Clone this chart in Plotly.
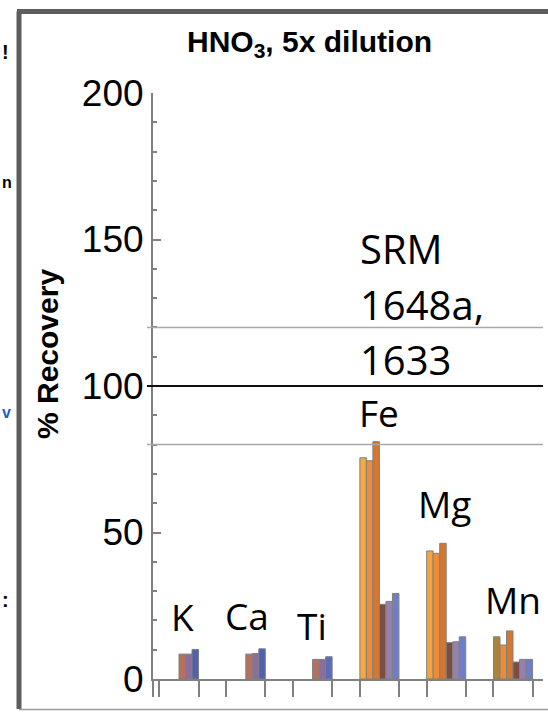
import plotly.graph_objects as go

# Element groups and % recovery for the six sample series
elements = ["K", "Ca", "Ti", "Fe", "Mg", "Mn"]
srm1648a_run1 = [None, None, None, 75.5, 43.7, 14.4]
srm1648a_run2 = [None, None, None, 74.5, 42.9, 11.6]
srm1648a_run3 = [None, None, None, 81.0, 46.3, 16.4]
srm1633_run1 = [8.5, 8.5, 6.7, 25.5, 12.4, 5.8]
srm1633_run2 = [8.5, 8.7, 6.7, 26.5, 12.7, 6.7]
srm1633_run3 = [10.1, 10.3, 7.6, 29.2, 14.4, 6.7]

series = [srm1648a_run1, srm1648a_run2, srm1648a_run3,
          srm1633_run1, srm1633_run2, srm1633_run3]

colors = [
    ["#F4AA3E", "#F4AA3E", "#F4AA3E", "#F4AA3E", "#F2A53C", "#A8843E"],
    ["#EC8C3A", "#EC8C3A", "#EC8C3A", "#EC8C3A", "#EC8C3A", "#EC8C3A"],
    ["#D6772E", "#D6772E", "#D6772E", "#D6772E", "#D6772E", "#D6772E"],
    ["#B5715C", "#B5715C", "#B5715C", "#7C4E42", "#7C4E42", "#7C4E42"],
    ["#8C6E9C", "#8C6E9C", "#8C6E9C", "#9580AE", "#9580AE", "#9580AE"],
    ["#5061B0", "#5061B0", "#5A6CBA", "#6E7EC8", "#6E7EC8", "#6E7EC8"],
]

# label positions (value units) for the element names
label_y = [21.2, 21.8, 18.4, 90.8, 60.0, 27.0]
label_dx = [0.06, 0.02, -0.01, -0.01, -0.03, 0.0]

y_ticks = [0, 50, 100, 150, 200]
x_pos = list(range(len(elements)))

W, H = 548, 713
L, R, T, B = 153, 5, 93, 34
PW, PH = W - L - R, H - T - B

GROUP = 0.585
BW = GROUP / 6
X0, X1 = -0.389, 5.449


def px(x):
    return (x - L) / PW


def py(y):
    return (H - B - y) / PH


fig = go.Figure()
for j, vals in enumerate(series):
    fig.add_trace(go.Bar(
        x=x_pos, y=vals,
        width=BW, offset=-GROUP / 2 + j * BW,
        marker=dict(color=colors[j], line=dict(color="#808080", width=1)),
        showlegend=False, hoverinfo="skip",
    ))

edges = [X0]
for c in x_pos:
    edges += [c - GROUP / 2, c + GROUP / 2]

fig.update_xaxes(
    range=[X0, X1], showgrid=False, zeroline=False,
    showline=True, linecolor="#808080", linewidth=2,
    ticks="outside", ticklen=16, tickwidth=2, tickcolor="#808080",
    tickvals=edges, showticklabels=False,
)
fig.update_yaxes(
    range=[0, 200], showgrid=False, zeroline=False,
    showline=True, linecolor="#808080", linewidth=2,
    ticks="inside", ticklen=8, tickwidth=1.5, tickcolor="#808080",
    tickvals=y_ticks, ticktext=[str(v) for v in y_ticks],
    tickfont=dict(family="Liberation Sans", size=37, color="black"),
    ticklabelstandoff=0,
    minor=dict(dtick=10, ticks="inside", ticklen=4, tickcolor="#808080", tickwidth=1.5),
)

# reference lines at 80 %, 100 % and 120 %
for yv, col, wd in [(120, "#A8A8A8", 1.5), (80, "#A8A8A8", 1.5), (100, "#111111", 2.2)]:
    fig.add_shape(type="line", xref="paper", yref="y",
                  x0=px(147), x1=1, y0=yv, y1=yv,
                  line=dict(color=col, width=wd))

# panel frame
frame = dict(color="#5E5E5E", width=5)
fig.add_shape(type="line", xref="paper", yref="paper",
              x0=px(19), x1=px(19), y0=py(11.5), y1=py(709), line=frame)
fig.add_shape(type="line", xref="paper", yref="paper",
              x0=px(17), x1=px(560), y0=py(11.5), y1=py(11.5), line=frame)
fig.add_shape(type="line", xref="paper", yref="paper",
              x0=px(19), x1=px(560), y0=py(709.5), y1=py(709.5),
              line=dict(color="#9A9A9A", width=1.5))

label_font = dict(family="Open Sans", size=37, color="black")
for i, name in enumerate(elements):
    fig.add_annotation(x=x_pos[i] + label_dx[i], y=label_y[i], text=name,
                       showarrow=False, font=label_font,
                       xanchor="center", yanchor="middle")

srm_font = dict(family="Open Sans", size=40, color="black")
for txt, yp in [("SRM", 249), ("1648a,", 304), ("1633", 359)]:
    fig.add_annotation(xref="paper", yref="paper", x=px(358), y=py(yp),
                       text=txt, showarrow=False, font=srm_font,
                       xanchor="left", yanchor="middle")

fig.add_annotation(xref="paper", yref="paper", x=px(309), y=py(44),
                   text="<b>HNO<sub>3</sub>, 5x dilution</b>", showarrow=False,
                   font=dict(family="Liberation Sans", size=30, color="black"),
                   xanchor="center", yanchor="middle")

fig.add_annotation(xref="paper", yref="paper", x=px(47), y=py(354),
                   text="<b>% Recovery</b>", textangle=-90, showarrow=False,
                   font=dict(family="Liberation Sans", size=30, color="black"),
                   xanchor="center", yanchor="middle")

# small glyphs from the neighbouring panel, left of the border
for txt, yp, col, sz in [("!", 52, "black", 20), ("n", 183, "black", 16),
                         ("v", 412, "#1F5FBF", 16), (":", 600, "black", 20)]:
    fig.add_annotation(xref="paper", yref="paper", x=px(0), y=py(yp),
                       text="<b>" + txt + "</b>", showarrow=False,
                       font=dict(family="Liberation Sans", size=sz, color=col),
                       xanchor="left", yanchor="middle")

fig.update_layout(
    width=W, height=H,
    margin=dict(l=L, r=R, t=T, b=B),
    paper_bgcolor="white", plot_bgcolor="white",
    barmode="overlay",
)

fig.write_html("out.html")
